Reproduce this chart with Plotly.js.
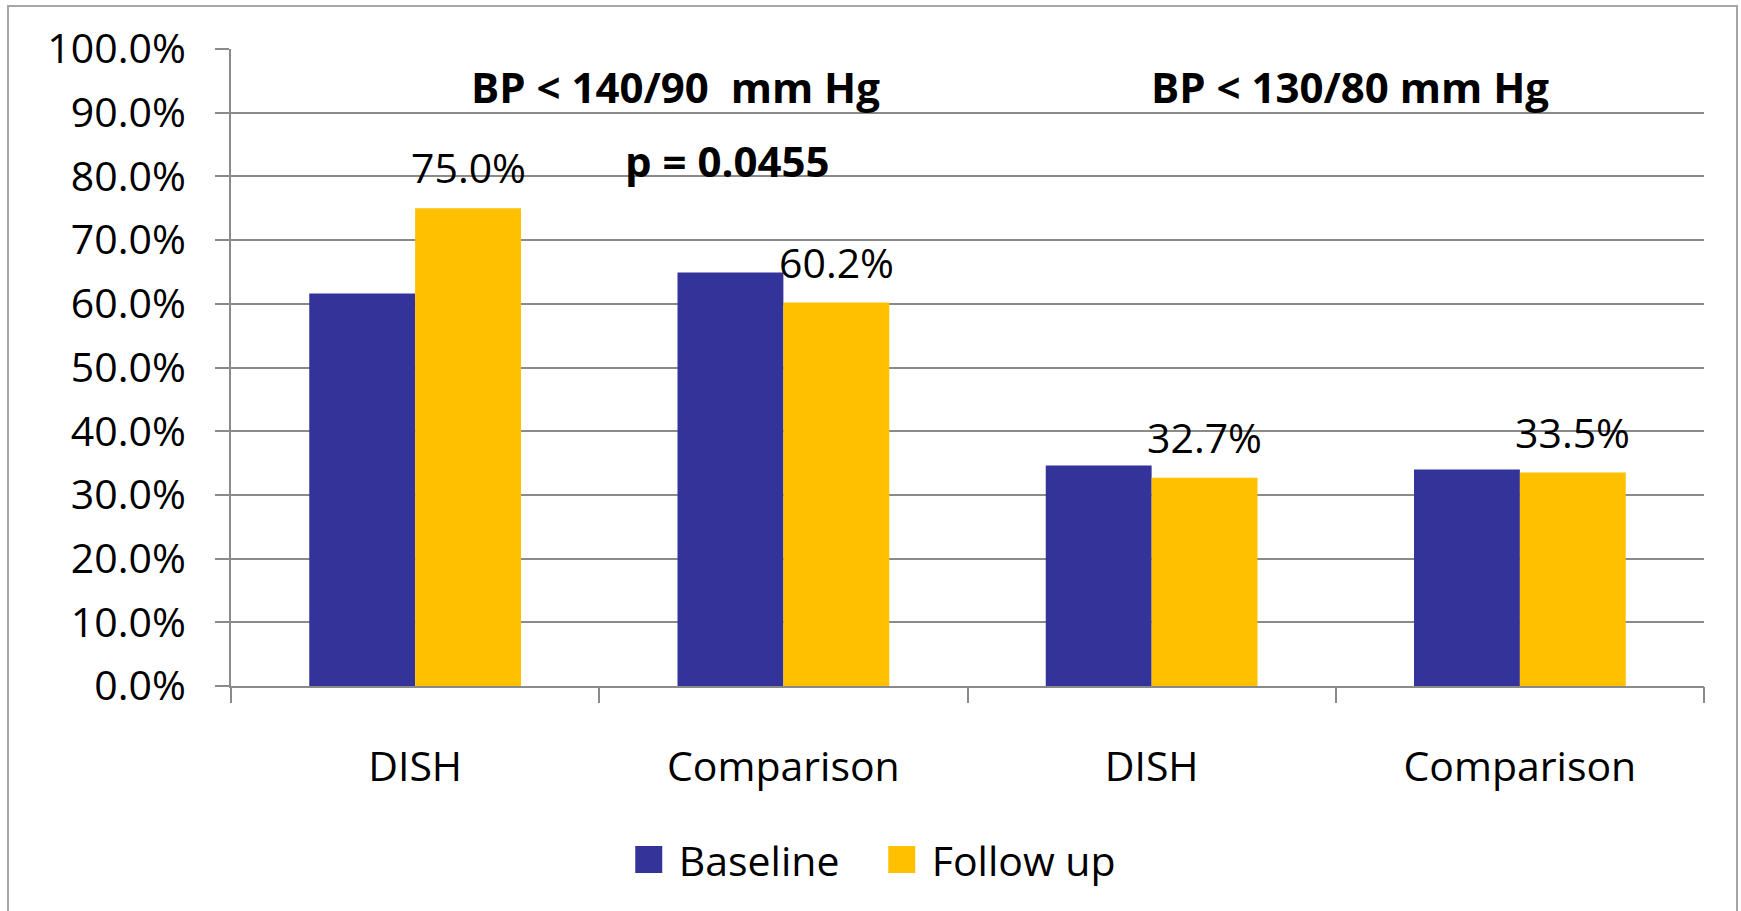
<!DOCTYPE html>
<html>
<head>
<meta charset="utf-8">
<script src="https://cdn.plot.ly/plotly-3.0.1.min.js"></script>
<style>
  html, body { margin: 0; padding: 0; background: #ffffff; overflow: hidden; }
  #wrap { position: relative; width: 1741px; height: 911px; }
  #chart { position: absolute; left: 0; top: 0; width: 1741px; height: 911px; }
  #frame {
    position: absolute; left: 7px; top: 5px; width: 1727px; height: 1000px;
    border: 2px solid #a6a6a6; pointer-events: none;
  }
  /* larger legend swatches (keeps the swatch offset inside its entry) */
  #chart .legendpoints path {
    transform: translate(30px, 0px) scale(2.25);
  }
</style>
</head>
<body>
<div id="wrap">
  <div id="chart"></div>
  <div id="frame"></div>
</div>
<script>
// Share of patients reaching blood-pressure targets
const categories = ['DISH', 'Comparison', 'DISH', 'Comparison'];
const baseline = [61.6, 64.9, 34.6, 34.0];
const followUp = [75.0, 60.2, 32.7, 33.5];
const seriesNames = ['Baseline', 'Follow up'];
const seriesColors = ['#333399', '#FFC000'];
const targetTitles = ['BP &lt; 140/90\u00a0 mm Hg', 'BP &lt; 130/80 mm Hg'];
const pValueText = 'p = 0.0455';

const FONT = '"Open Sans", "Noto Sans", "Liberation Sans", sans-serif';
const GRID = '#8a8a8a';
const BARGAP = 0.425;

const xIdx = categories.map((_, i) => i);
const boundaries = categories.map((_, i) => i - 0.5).concat([categories.length - 0.5]);

const traces = [
  {
    type: 'bar', name: seriesNames[0], x: xIdx, y: baseline,
    marker: { color: seriesColors[0], line: { width: 0 } },
    hovertemplate: '%{y:.1f}%<extra>' + seriesNames[0] + '</extra>'
  },
  {
    type: 'bar', name: seriesNames[1], x: xIdx, y: followUp,
    marker: { color: seriesColors[1], line: { width: 0 } },
    hovertemplate: '%{y:.1f}%<extra>' + seriesNames[1] + '</extra>'
  },
  // carrier for the category-boundary tick axis
  {
    type: 'scatter', mode: 'markers', x: xIdx, y: followUp, xaxis: 'x2', yaxis: 'y',
    marker: { opacity: 0, size: 1 }, showlegend: false, hoverinfo: 'skip'
  }
];

// value labels above the follow-up bars
const barOffset = (1 - BARGAP) / 4;
const valueLabels = followUp.map((v, i) => ({
  xref: 'x', yref: 'y', x: i + barOffset, y: v,
  text: v.toFixed(1) + '%', showarrow: false,
  xanchor: 'center', yanchor: 'bottom', yshift: 11,
  font: { family: FONT, size: 41, color: '#000000' }
}));

const headerFont = { family: FONT, size: 42, color: '#000000', weight: 'bold' };
const headers = [
  { xref: 'x', yref: 'y', x: 0.706, y: 94.1, text: '<b>' + targetTitles[0] + '</b>',
    showarrow: false, xanchor: 'center', yanchor: 'middle', font: headerFont },
  { xref: 'x', yref: 'y', x: 2.539, y: 94.1, text: '<b>' + targetTitles[1] + '</b>',
    showarrow: false, xanchor: 'center', yanchor: 'middle', font: headerFont },
  { xref: 'x', yref: 'y', x: 0.847, y: 82.5, text: '<b>' + pValueText + '</b>',
    showarrow: false, xanchor: 'center', yanchor: 'middle', font: headerFont }
];

const layout = {
  width: 1741, height: 911,
  paper_bgcolor: '#ffffff', plot_bgcolor: '#ffffff',
  margin: { l: 231, r: 37, t: 49, b: 225 },
  font: { family: FONT, size: 41, color: '#000000' },
  barmode: 'group', bargap: BARGAP, bargroupgap: 0,
  showlegend: true,
  legend: {
    orientation: 'h', x: 0.435, xanchor: 'center', y: -0.273, yanchor: 'middle',
    font: { family: FONT, size: 41, color: '#000000' },
    itemwidth: 50, entrywidth: 188, entrywidthmode: 'pixels',
    bgcolor: 'rgba(0,0,0,0)', traceorder: 'normal'
  },
  xaxis: {
    type: 'linear', range: [-0.5, categories.length - 0.5], fixedrange: true,
    tickmode: 'array', tickvals: xIdx, ticktext: categories,
    ticks: '', showgrid: false, zeroline: false,
    showline: true, linecolor: GRID, linewidth: 2,
    ticklabelstandoff: 44,
    tickfont: { family: FONT, size: 41, color: '#000000' }
  },
  xaxis2: {
    type: 'linear', overlaying: 'x', anchor: 'y', side: 'bottom',
    range: [-0.5, categories.length - 0.5], fixedrange: true,
    tickmode: 'array', tickvals: boundaries, ticks: 'outside',
    ticklen: 16, tickwidth: 2, tickcolor: GRID,
    showticklabels: false, showgrid: false, zeroline: false, showline: false
  },
  yaxis: {
    range: [0, 100], fixedrange: true, dtick: 10, tick0: 0,
    tickformat: '.1f', ticksuffix: '%',
    ticks: 'outside', ticklen: 14, tickwidth: 2, tickcolor: GRID,
    showgrid: true, gridcolor: GRID, gridwidth: 2,
    zeroline: false, showline: true, linecolor: GRID, linewidth: 2,
    ticklabelstandoff: 21,
    tickfont: { family: FONT, size: 41, color: '#000000' }
  },
  annotations: headers.concat(valueLabels)
};

Plotly.newPlot('chart', traces, layout, { displayModeBar: false, staticPlot: true });
</script>
</body>
</html>
